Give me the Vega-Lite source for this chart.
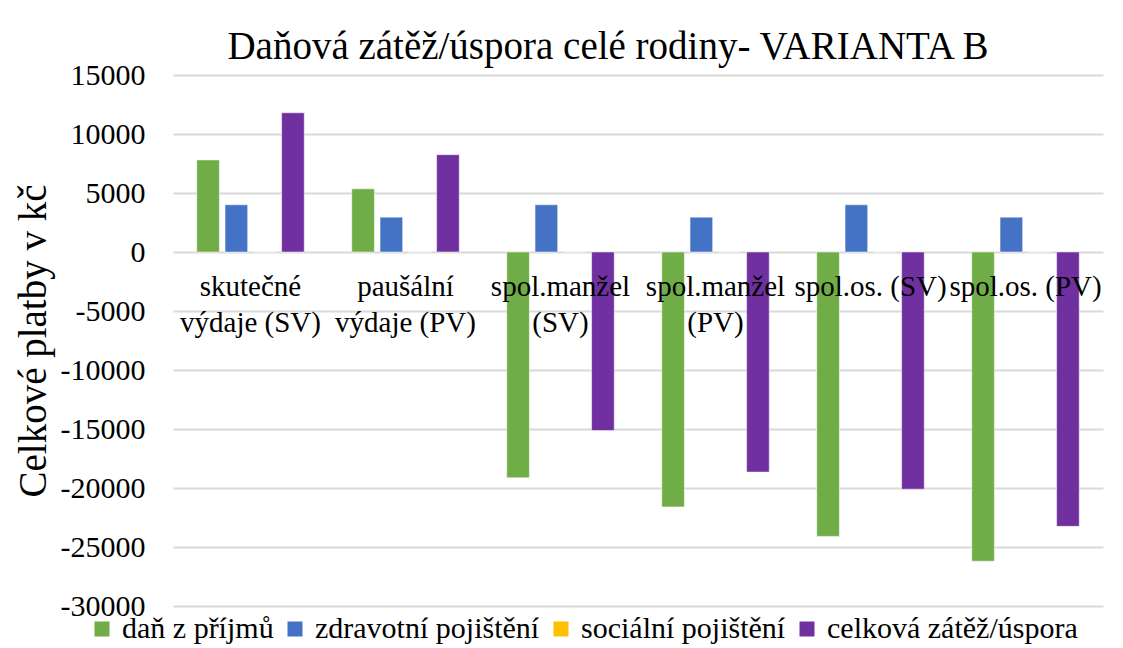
{
  "$schema": "https://vega.github.io/schema/vega-lite/v6.json",
  "width": 930,
  "height": 531,
  "autosize": {"type": "none"},
  "padding": {"left": 173, "top": 75, "right": 20, "bottom": 42},
  "background": "white",
  "config": {
    "font": "Liberation Serif",
    "view": {"stroke": null},
    "axis": {"labelFont": "Liberation Serif", "titleFont": "Liberation Serif"},
    "legend": {"labelFont": "Liberation Serif", "titleFont": "Liberation Serif"},
    "title": {"font": "Liberation Serif"},
    "text": {"font": "Liberation Serif"}
  },
  "title": {
    "text": "Daňová zátěž/úspora celé rodiny- VARIANTA B",
    "fontSize": 39,
    "font": "Liberation Serif",
    "fontWeight": "normal",
    "color": "black",
    "anchor": "middle",
    "dx": -30,
    "offset": -7
  },
  "datasets": {
    "bars": [
      {"kategorie": "k1", "typ": "daň z příjmů", "hodnota": 7800},
      {"kategorie": "k1", "typ": "zdravotní pojištění", "hodnota": 4000},
      {"kategorie": "k1", "typ": "sociální pojištění", "hodnota": 0},
      {"kategorie": "k1", "typ": "celková zátěž/úspora", "hodnota": 11800},
      {"kategorie": "k2", "typ": "daň z příjmů", "hodnota": 5350},
      {"kategorie": "k2", "typ": "zdravotní pojištění", "hodnota": 2950},
      {"kategorie": "k2", "typ": "sociální pojištění", "hodnota": 0},
      {"kategorie": "k2", "typ": "celková zátěž/úspora", "hodnota": 8250},
      {"kategorie": "k3", "typ": "daň z příjmů", "hodnota": -19130},
      {"kategorie": "k3", "typ": "zdravotní pojištění", "hodnota": 4000},
      {"kategorie": "k3", "typ": "sociální pojištění", "hodnota": 0},
      {"kategorie": "k3", "typ": "celková zátěž/úspora", "hodnota": -15130},
      {"kategorie": "k4", "typ": "daň z příjmů", "hodnota": -21600},
      {"kategorie": "k4", "typ": "zdravotní pojištění", "hodnota": 2950},
      {"kategorie": "k4", "typ": "sociální pojištění", "hodnota": 0},
      {"kategorie": "k4", "typ": "celková zátěž/úspora", "hodnota": -18650},
      {"kategorie": "k5", "typ": "daň z příjmů", "hodnota": -24100},
      {"kategorie": "k5", "typ": "zdravotní pojištění", "hodnota": 4000},
      {"kategorie": "k5", "typ": "sociální pojištění", "hodnota": 0},
      {"kategorie": "k5", "typ": "celková zátěž/úspora", "hodnota": -20100},
      {"kategorie": "k6", "typ": "daň z příjmů", "hodnota": -26200},
      {"kategorie": "k6", "typ": "zdravotní pojištění", "hodnota": 2950},
      {"kategorie": "k6", "typ": "sociální pojištění", "hodnota": 0},
      {"kategorie": "k6", "typ": "celková zátěž/úspora", "hodnota": -23250}
    ],
    "labels": [
      {"kategorie": "k1", "popisek": "skutečné\nvýdaje (SV)"},
      {"kategorie": "k2", "popisek": "paušální\nvýdaje (PV)"},
      {"kategorie": "k3", "popisek": "spol.manžel\n(SV)"},
      {"kategorie": "k4", "popisek": "spol.manžel\n(PV)"},
      {"kategorie": "k5", "popisek": "spol.os. (SV)"},
      {"kategorie": "k6", "popisek": "spol.os. (PV)"}
    ]
  },
  "layer": [
    {
      "data": {"name": "bars"},
      "mark": {"type": "bar", "stroke": "white", "strokeWidth": 0.5},
      "encoding": {
        "x": {
          "field": "kategorie",
          "type": "nominal",
          "sort": null,
          "scale": {"paddingInner": 0.27, "paddingOuter": 0.135},
          "axis": null
        },
        "xOffset": {
          "field": "typ",
          "type": "nominal",
          "sort": ["daň z příjmů", "zdravotní pojištění", "sociální pojištění", "celková zátěž/úspora"],
          "scale": {"paddingInner": 0.2, "paddingOuter": 0.1}
        },
        "y": {
          "field": "hodnota",
          "type": "quantitative",
          "scale": {"domain": [-30000, 15000], "nice": false, "zero": false},
          "axis": {
            "values": [-30000, -25000, -20000, -15000, -10000, -5000, 0, 5000, 10000, 15000],
            "format": "d",
            "labelExpr": "replace(datum.label, '−', '-')",
            "title": "Celkové platby v kč",
            "titleFont": "Liberation Serif",
            "titleFontSize": 39,
            "titleFontWeight": "normal",
            "titleColor": "black",
            "titlePadding": 7,
            "labelFont": "Liberation Serif",
            "labelFontSize": 30,
            "labelColor": "black",
            "labelPadding": 28,
            "domain": false,
            "ticks": false,
            "grid": true,
            "gridColor": "#d9d9d9",
            "gridWidth": 2
          }
        },
        "color": {
          "field": "typ",
          "type": "nominal",
          "scale": {
            "domain": ["daň z příjmů", "zdravotní pojištění", "sociální pojištění", "celková zátěž/úspora"],
            "range": ["#70AD47", "#4472C4", "#FFC000", "#7030A0"]
          },
          "legend": {
            "title": null,
            "orient": "none",
            "legendX": -86,
            "legendY": 539,
            "direction": "horizontal",
            "symbolType": "square",
            "symbolSize": 225,
            "symbolStrokeWidth": 0,
            "labelFont": "Liberation Serif",
            "labelFontSize": 30,
            "labelColor": "black",
            "labelOffset": 5,
            "columnPadding": 6,
            "labelLimit": 400
          }
        }
      }
    },
    {
      "data": {"name": "labels"},
      "mark": {
        "type": "text",
        "font": "Liberation Serif",
        "fontSize": 29,
        "color": "black",
        "baseline": "alphabetic",
        "align": "center",
        "lineBreak": "\n",
        "lineHeight": 36,
        "dy": 44
      },
      "encoding": {
        "x": {"field": "kategorie", "type": "nominal", "sort": null},
        "y": {"datum": 0, "type": "quantitative"},
        "text": {"field": "popisek"}
      }
    }
  ]
}
